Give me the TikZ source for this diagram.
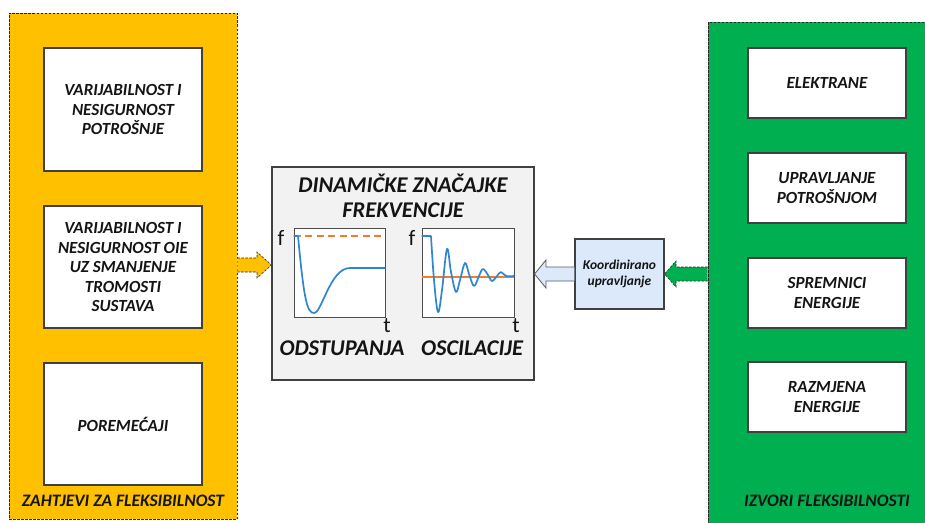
\documentclass[tikz,border=0pt]{standalone}
\usepackage{fontspec}
\setmainfont{Carlito}
\definecolor{ylw}{RGB}{255,192,0}
\definecolor{grn}{RGB}{0,176,80}
\definecolor{lblue}{RGB}{220,233,250}
\definecolor{ornge}{RGB}{237,125,49}
\definecolor{curveblue}{RGB}{46,134,209}
\definecolor{boxgray}{RGB}{242,242,242}
\definecolor{txt}{RGB}{20,20,20}
\begin{document}
\begin{tikzpicture}[x=1pt,y=-1pt,
  panel/.style={draw=black!85, line width=0.6pt, dash pattern=on 2.5pt off 1.5pt},
  ibox/.style={draw=black!75, line width=1.1pt, fill=white, minimum width=158pt, align=center,
    font=\fontsize{17}{19.5}\selectfont\bfseries\itshape, text=txt, inner sep=0pt},
  plabel/.style={font=\fontsize{17.5}{18}\selectfont\bfseries\itshape, text=txt},
  plotbox/.style={draw=black!70, line width=0.9pt, fill=white, inner sep=0pt},
  axlab/.style={font=\fontsize{22}{22}\selectfont, text=txt, inner sep=0pt},
  biglab/.style={font=\fontsize{22.5}{25}\selectfont\bfseries\itshape, text=txt, align=center, inner sep=0pt},
  blockarr/.style={line width=0.6pt, dash pattern=on 2.5pt off 1.5pt, draw=black!85}
]
\useasboundingbox (0,0) rectangle (925,522);

% left panel
\node[panel, fill=ylw, minimum width=228pt, minimum height=506pt, inner sep=0pt] (ypanel) at (123,266) {};
\node[ibox, minimum height=123pt] (v1) at (123,109.5) {VARIJABILNOST I\\NESIGURNOST\\POTROŠNJE};
\node[ibox, minimum height=122pt] (v2) at (123,267) {VARIJABILNOST I\\NESIGURNOST OIE\\UZ SMANJENJE\\TROMOSTI\\SUSTAVA};
\node[ibox, minimum height=122pt] (v3) at (123,424) {POREMEĆAJI};
\node[plabel] (ylab) at (123,501) {ZAHTJEVI ZA FLEKSIBILNOST};

% right panel
\node[panel, fill=grn, minimum width=222pt, minimum height=504pt, inner sep=0pt] (gpanel) at (819,274) {};
\node[ibox, minimum height=70pt] (g1) at (827,83) {ELEKTRANE};
\node[ibox, minimum height=70pt] (g2) at (827,188) {UPRAVLJANJE\\POTROŠNJOM};
\node[ibox, minimum height=70pt] (g3) at (827,293) {SPREMNICI\\ENERGIJE};
\node[ibox, minimum height=70pt] (g4) at (827,397) {RAZMJENA\\ENERGIJE};
\node[plabel] (glab) at (827,501) {IZVORI FLEKSIBILNOSTI};

% centre box
\node[draw=black!75, line width=1.1pt, fill=boxgray, minimum width=262pt, minimum height=213pt, inner sep=0pt] (dyn) at (403,273.5) {};
\node[biglab] (title) at (403,196) {DINAMIČKE ZNAČAJKE\\FREKVENCIJE};

\node[plotbox, minimum width=91pt, minimum height=89pt] (p1) at (339.5,272.5) {};
\node[plotbox, minimum width=92pt, minimum height=89pt] (p2) at (468,272.5) {};

\draw[ornge, line width=1.4pt, dash pattern=on 7pt off 4.5pt] (p1.west |- 0,236) -- (p1.east |- 0,236);
\draw[curveblue, line width=1.7pt, line join=round]
  (p1.west |- 0,236) -- (298,236) .. controls (304,300) and (307,313) .. (314,313)
  .. controls (322,313) and (330,268) .. (350,268) -- (p1.east |- 0,268);

\draw[ornge, line width=1.4pt] (p2.west |- 0,277) -- (p2.east |- 0,277);
\draw[curveblue, line width=1.7pt, line join=round]
  (p2.west |- 0,236) -- (431,236)
  plot[smooth, tension=0.6] coordinates {(431,236) (434,280) (438,312) (442,290) (447,249) (451,272) (456,292) (460,280) (465,263) (469,274) (474,286) (479,276) (483,269) (488,275) (492,281) (497,276) (501,272) (506,276) (514,276)};

\node[axlab] (f1) at (281,238) {f};
\node[axlab] (t1) at (387,326) {t};
\node[axlab] (f2) at (412,238) {f};
\node[axlab] (t2) at (516,326) {t};

\node[biglab] (odst) at (342,348) {ODSTUPANJA};
\node[biglab] (osc) at (472,348) {OSCILACIJE};

% coordination box
\node[draw=black!75, line width=1.1pt, fill=lblue, minimum width=89pt, minimum height=70pt, align=center,
  font=\fontsize{13.5}{16}\selectfont\bfseries\itshape, text=txt, inner sep=0pt] (koord) at (619.5,274) {Koordinirano\\upravljanje};

% yellow arrow: requirements -> dynamics
\draw[blockarr, fill=ylw]
  (ypanel.east |- 0,258) -- (257,258) -- (257,252) -- (dyn.west |- 0,265) -- (257,278) -- (257,272) -- (ypanel.east |- 0,272);

% blue arrow: coordination -> dynamics
\draw[draw=black!65, line width=0.8pt, fill=lblue]
  (koord.west |- 0,267) -- (546,267) -- (546,260) -- (dyn.east |- 0,274) -- (546,288) -- (546,281) -- (koord.west |- 0,281);

% green arrow: sources -> coordination
\draw[blockarr, fill=grn]
  (gpanel.west |- 0,267) -- (676,267) -- (676,261) -- (koord.east |- 0,274) -- (676,287) -- (676,281) -- (gpanel.west |- 0,281);

\end{tikzpicture}
\end{document}
